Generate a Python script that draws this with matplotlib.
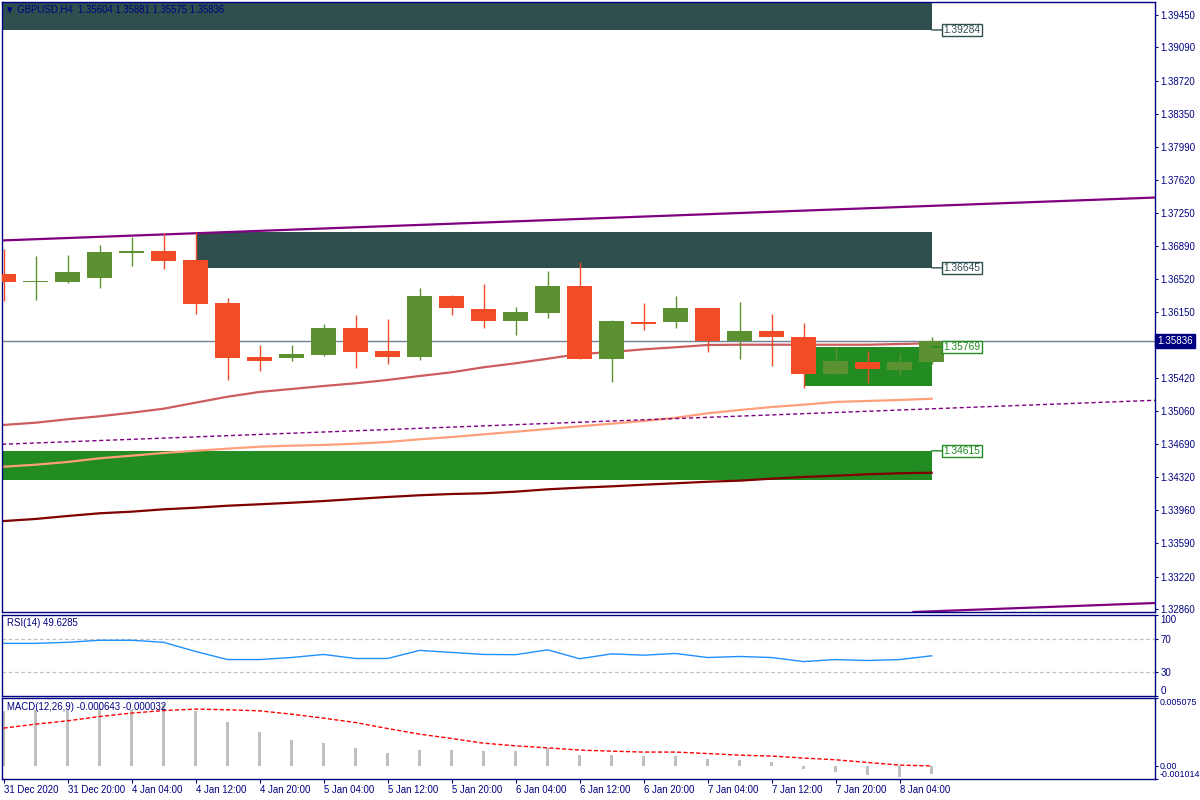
import matplotlib
matplotlib.use("Agg")
import matplotlib.pyplot as plt
from matplotlib.patches import Rectangle
import numpy as np

plt.rcParams['font.family'] = ['Liberation Sans', 'DejaVu Sans']

# H4 bars, 31 Dec 2020 12:00 .. 8 Jan 2021 08:00
time_labels = ["31 Dec 2020", "31 Dec 20:00", "4 Jan 04:00", "4 Jan 12:00", "4 Jan 20:00",
               "5 Jan 04:00", "5 Jan 12:00", "5 Jan 20:00", "6 Jan 04:00", "6 Jan 12:00",
               "6 Jan 20:00", "7 Jan 04:00", "7 Jan 12:00", "7 Jan 20:00", "8 Jan 04:00"]

opens = [1.36577, 1.36488, 1.36488, 1.36532, 1.36810, 1.36832, 1.36732, 1.36255, 1.35656, 1.35645,
         1.35678, 1.35978, 1.35722, 1.35656, 1.36333, 1.36188, 1.36055, 1.36144, 1.36444, 1.35634,
         1.36044, 1.36044, 1.36200, 1.35833, 1.35944, 1.35878, 1.35467, 1.35600, 1.35512, 1.35604]
highs = [1.36854, 1.36776, 1.36787, 1.36898, 1.36987, 1.37032, 1.37043, 1.36310, 1.35789, 1.35789,
         1.36022, 1.36122, 1.36077, 1.36421, 1.36344, 1.36466, 1.36211, 1.36610, 1.36710, 1.36066,
         1.36255, 1.36333, 1.36200, 1.36266, 1.36133, 1.36033, 1.35767, 1.35722, 1.35700, 1.35881]
lows = [1.36277, 1.36288, 1.36480, 1.36421, 1.36665, 1.36632, 1.36133, 1.35401, 1.35501, 1.35611,
        1.35667, 1.35534, 1.35578, 1.35623, 1.36122, 1.35978, 1.35900, 1.36089, 1.35634, 1.35378,
        1.35955, 1.35978, 1.35711, 1.35634, 1.35556, 1.35312, 1.35467, 1.35367, 1.35456, 1.35575]
closes = [1.36488, 1.36499, 1.36599, 1.36821, 1.36832, 1.36721, 1.36244, 1.35645, 1.35611, 1.35689,
          1.35978, 1.35711, 1.35656, 1.36333, 1.36200, 1.36055, 1.36155, 1.36444, 1.35634, 1.36055,
          1.36022, 1.36200, 1.35833, 1.35944, 1.35878, 1.35467, 1.35611, 1.35523, 1.35600, 1.35836]

ma_fast = [1.34902, 1.34927, 1.34965, 1.34998, 1.35038, 1.35082, 1.35149, 1.35215, 1.35268, 1.35301,
           1.35334, 1.35364, 1.35401, 1.35445, 1.35486, 1.35542, 1.35586, 1.35637, 1.35689, 1.35711,
           1.35741, 1.35764, 1.35789, 1.35792, 1.35792, 1.35792, 1.35792, 1.35792, 1.35800, 1.35808]
ma_mid = [1.34439, 1.34461, 1.34491, 1.34532, 1.34561, 1.34591, 1.34616, 1.34639, 1.34661, 1.34672,
          1.34680, 1.34694, 1.34713, 1.34743, 1.34768, 1.34798, 1.34827, 1.34857, 1.34887, 1.34916,
          1.34946, 1.34982, 1.35031, 1.35068, 1.35101, 1.35127, 1.35157, 1.35168, 1.35179, 1.35193]
ma_slow = [1.33836, 1.33859, 1.33892, 1.33922, 1.33940, 1.33966, 1.33984, 1.34006, 1.34022, 1.34039,
           1.34058, 1.34081, 1.34103, 1.34122, 1.34136, 1.34144, 1.34162, 1.34188, 1.34206, 1.34221,
           1.34239, 1.34255, 1.34272, 1.34284, 1.34306, 1.34325, 1.34339, 1.34355, 1.34366, 1.34372]

# trend lines: two anchor points each (bar index, price)
trend_bars = [-0.1, 36.0]
channel_upper = [1.36948, 1.37425]
channel_lower = [1.32450, 1.32927]
trend_dashed = [1.34687, 1.35176]

# rectangles (supply / demand zones)
zone_start = [-1, 6, 25, -1]
zone_end = [29, 29, 29, 29]
zone_low = [1.39284, 1.36645, 1.35334, 1.34291]
zone_high = [1.39900, 1.37043, 1.35769, 1.34615]
zone_label_price = [1.39284, 1.36645, 1.35769, 1.34615]
zone_colors = ["#2F4F4F", "#2F4F4F", "#228B22", "#228B22"]

price_ticks = [1.39450, 1.39090, 1.38720, 1.38350, 1.37990, 1.37620, 1.37250, 1.36890, 1.36520,
               1.36150, 1.35790, 1.35420, 1.35060, 1.34690, 1.34320, 1.33960, 1.33590, 1.33220, 1.32860]
last_price = 1.35836

rsi = [65.0, 65.0, 66.3, 68.8, 68.8, 66.3, 55.0, 45.0, 45.0, 47.5,
       51.3, 46.3, 46.3, 56.3, 53.8, 51.3, 51.0, 57.0, 46.0, 52.0,
       50.4, 52.5, 47.5, 48.8, 47.5, 42.5, 45.0, 43.8, 45.0, 49.6285]

macd = [0.00410, 0.00420, 0.00420, 0.00430, 0.00420, 0.00463, 0.00410, 0.00328, 0.00253, 0.00193,
        0.00171, 0.00133, 0.00095, 0.00118, 0.00118, 0.00110, 0.00110, 0.00133, 0.00080, 0.00080,
        0.00073, 0.00073, 0.00050, 0.00043, 0.00028, -0.00025, -0.00047, -0.00070, -0.00085, -0.000643]
signal = [0.00281, 0.00311, 0.00336, 0.00368, 0.00394, 0.00413, 0.00424, 0.00419, 0.00411, 0.00386,
          0.00356, 0.00323, 0.00278, 0.00236, 0.00203, 0.00168, 0.00148, 0.00133, 0.00116, 0.00108,
          0.00101, 0.00101, 0.00090, 0.00078, 0.00071, 0.00056, 0.00043, 0.00023, 0.00003, -0.000032]

NAVY = "#000080"
UP = "#5B9131"
DOWN = "#F24C27"
FS = 6.9

fig = plt.figure(figsize=(12, 8), dpi=100)
W, H = 1200, 800
ax = fig.add_axes([2 / W, (H - 612) / H, 1153 / W, 610 / H])
ax_rsi = fig.add_axes([2 / W, (H - 696) / H, 1153 / W, 81 / H])
ax_macd = fig.add_axes([2 / W, (H - 779) / H, 1153 / W, 81 / H])

bars = np.arange(len(opens))
o, h, l, c = map(np.array, (opens, highs, lows, closes))

for a in (ax, ax_rsi, ax_macd):
    a.set_xlim(-0.047, 35.98)
    for s in a.spines.values():
        s.set_color(NAVY)
        s.set_linewidth(1.0)
    a.yaxis.tick_right()
    a.tick_params(axis='y', colors=NAVY, labelsize=FS, length=2.5, width=0.8, pad=1.5,
                  labelcolor=NAVY)
    a.tick_params(axis='x', bottom=False, labelbottom=False)

# ---- main price panel
ax.set_ylim(1.32827, 1.39594)
for x0, x1, lo, hi, col in zip(zone_start, zone_end, zone_low, zone_high, zone_colors):
    ax.add_patch(Rectangle((x0, lo), x1 - x0, hi - lo, facecolor=col, edgecolor='none', zorder=1))
for lp, x1, col in zip(zone_label_price, zone_end, zone_colors):
    ax.annotate(f"{lp:.5f}", xy=(x1, lp), xytext=(8.6, 0), textcoords='offset points',
                ha='left', va='center', fontsize=7.4, color=col, annotation_clip=False,
                bbox=dict(boxstyle='square,pad=0.12', fc='white', ec=col, lw=1),
                arrowprops=dict(arrowstyle='-', color=col, lw=1, shrinkA=0, shrinkB=0), zorder=6)

ax.plot(bars, ma_fast, color="#CD5C5C", lw=1.6, zorder=2)
ax.plot(bars, ma_mid, color="#FFA07A", lw=1.6, zorder=2)
ax.plot(bars, ma_slow, color="#800000", lw=1.6, zorder=2)
ax.axline((trend_bars[0], channel_upper[0]), (trend_bars[1], channel_upper[1]),
          color="#800080", lw=1.6, zorder=2)
ax.axline((trend_bars[0], channel_lower[0]), (trend_bars[1], channel_lower[1]),
          color="#800080", lw=1.6, zorder=2)
ax.axline((trend_bars[0], trend_dashed[0]), (trend_bars[1], trend_dashed[1]),
          color="#800080", lw=1.0, dashes=(3, 2), zorder=2)

ax.axhline(last_price, color="#708090", lw=1.0, zorder=2.5)

cols = np.where(c >= o, UP, DOWN)
ax.vlines(bars, l, h, colors=cols, lw=1.0, zorder=3)
body = np.maximum(np.abs(c - o), 0.00012)
ax.bar(bars, body, bottom=np.minimum(o, c), width=0.78, color=cols, zorder=3)

ax.set_yticks(price_ticks)
ax.set_yticklabels([f"{v:.5f}" for v in price_ticks])
# current bid label sits on the axis, over the 1.35790 tick as in the terminal
ax.annotate(f"{last_price:.5f}", xy=(1, last_price), xycoords=('axes fraction', 'data'),
            xytext=(1.5, 0), textcoords='offset points', ha='left', va='center',
            fontsize=FS + 0.2, color='white', annotation_clip=False,
            bbox=dict(boxstyle='square,pad=0.22', fc=NAVY, ec=NAVY), zorder=6)

fig.text(5 / W, 1 - 10 / H, "\u25BC GBPUSD,H4  1.35604 1.35881 1.35575 1.35836",
         fontsize=FS, color=NAVY, va='center', ha='left')

# ---- RSI
ax_rsi.set_ylim(0, 100)
for lvl in (70, 30):
    ax_rsi.axhline(lvl, color="#C0C0C0", lw=0.9, dashes=(3, 2))
ax_rsi.plot(bars, rsi, color="#1E90FF", lw=1.0)
ax_rsi.set_yticks([100, 70, 30, 0])
ax_rsi.set_yticklabels(["100", "70", "30", "0"])
lbls = ax_rsi.get_yticklabels()
lbls[0].set_va('top')
lbls[3].set_va('bottom')
fig.text(7 / W, 1 - 623 / H, "RSI(14) 49.6285", fontsize=FS, color=NAVY, va='center', ha='left')

# ---- MACD
macd_lo, macd_hi = -0.001014, 0.005075
ax_macd.set_ylim(macd_lo, macd_hi)
ax_macd.bar(bars, macd, width=0.09, color="#C0C0C0", zorder=2)
ax_macd.plot(bars, signal, color="#FF0000", lw=1.0, dashes=(3, 1.6), zorder=3)
ax_macd.set_yticks([macd_hi, 0, macd_lo])
ax_macd.set_yticklabels(["0.005075", "0.00", "-0.001014"])
ax_macd.tick_params(axis='y', labelsize=6.4, pad=1)
mlbls = ax_macd.get_yticklabels()
mlbls[0].set_va('top')
mlbls[2].set_va('bottom')
fig.text(7 / W, 1 - 707 / H, "MACD(12,26,9) -0.000643 -0.000032", fontsize=FS, color=NAVY,
         va='center', ha='left')

ax_macd.set_xticks(bars[::2][:len(time_labels)])
ax_macd.set_xticklabels(time_labels)
ax_macd.tick_params(axis='x', bottom=True, labelbottom=True, colors=NAVY, labelsize=FS,
                    length=3, width=0.8, pad=1)
for t in ax_macd.get_xticklabels():
    t.set_ha('left')

fig.savefig("out.png", dpi=100, facecolor='white')
